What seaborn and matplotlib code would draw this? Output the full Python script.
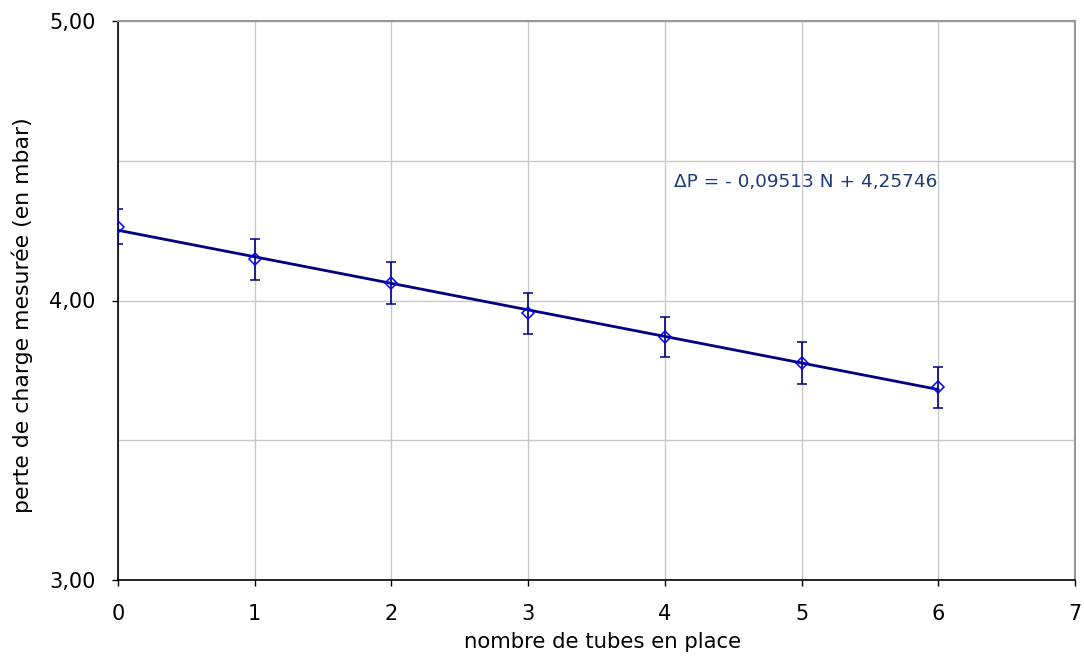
import numpy as np
import pandas as pd
import seaborn as sns
import matplotlib.pyplot as plt
from matplotlib.ticker import FuncFormatter, MultipleLocator

# values
tubes = [0, 1, 2, 3, 4, 5, 6]
pressure = [4.264, 4.147, 4.064, 3.954, 3.870, 3.777, 3.689]
err = [0.063, 0.073, 0.075, 0.074, 0.072, 0.075, 0.073]
equation = 'ΔP = - 0,09513 N + 4,25746'

df = pd.DataFrame({'N': tubes, 'dP': pressure, 'err': err})

sns.set_style('white')
plt.rcParams['font.family'] = ['DejaVu Sans']

fig = plt.figure(figsize=(10.84, 6.59), dpi=100)
ax = fig.add_axes([118 / 1084, 1 - 580 / 659, (1075 - 118) / 1084, (580 - 21) / 659])

sns.regplot(
    data=df, x='N', y='dP',
    scatter=False, ci=None, truncate=True,
    color='#000080', line_kws={'lw': 2}, ax=ax,
)
ax.errorbar(
    df['N'], df['dP'], yerr=df['err'],
    fmt='D', ms=6, mfc='none', mec='#0000ff', mew=1.1,
    ecolor='#000080', elinewidth=1.2, capsize=3.5, capthick=1.2,
    zorder=4,
)

ax.text(4.07, 4.424, equation, color='#1f3a78', fontsize=13.3, va='center')

ax.set_xlim(0, 7)
ax.set_ylim(3, 5)
ax.xaxis.set_major_locator(MultipleLocator(1))
ax.yaxis.set_major_locator(MultipleLocator(1))
ax.yaxis.set_minor_locator(MultipleLocator(0.5))
ax.yaxis.set_major_formatter(FuncFormatter(lambda v, p: f'{v:.2f}'.replace('.', ',')))

ax.grid(True, which='both', color='#c8c8c8', lw=1)
ax.set_axisbelow(True)
ax.tick_params(axis='both', which='major', direction='out', length=4, width=1,
               color='black', labelcolor='black', labelsize=15,
               left=True, bottom=True)
ax.tick_params(axis='x', which='major', pad=13)
ax.tick_params(axis='y', which='major', pad=12)
ax.tick_params(axis='y', which='minor', length=0)

for side in ['left', 'bottom']:
    ax.spines[side].set_color('black')
    ax.spines[side].set_linewidth(1.2)
for side in ['top', 'right']:
    ax.spines[side].set_visible(True)
    ax.spines[side].set_color('#999999')
    ax.spines[side].set_linewidth(1.5)

ax.set_xlabel('nombre de tubes en place', fontsize=15.3, color='black')
ax.set_ylabel('perte de charge mesurée (en mbar)', fontsize=15.8, color='black')
ax.xaxis.set_label_coords((603 - 118) / 957, -(632 - 580) / 559)
ax.yaxis.set_label_coords(-(118 - 33) / 957, (580 - 315) / 559)

fig.savefig('out.png', dpi=100)
